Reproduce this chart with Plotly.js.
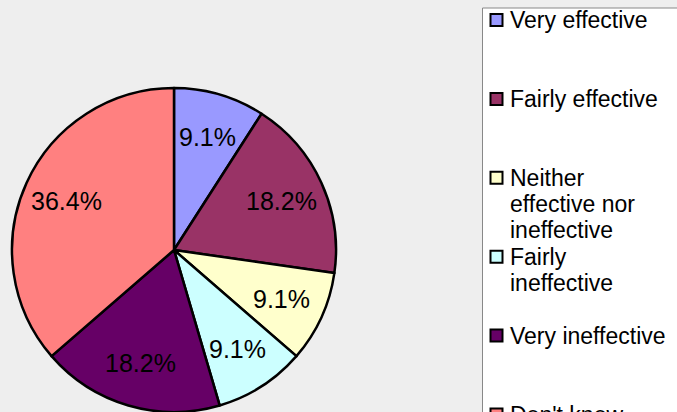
<!DOCTYPE html>
<html>
<head>
<meta charset="utf-8">
<script src="https://cdn.plot.ly/plotly-3.0.1.min.js"></script>
<style>html,body{margin:0;padding:0;background:#eeeeee;}#chart{width:677px;height:412px;}</style>
</head>
<body>
<div id="chart"></div>
<script>
const categories = ['Very effective', 'Fairly effective', 'Neither effective nor ineffective', 'Fairly ineffective', 'Very ineffective', "Don't know"];
const legendLines = [['Very effective'], ['Fairly effective'], ['Neither', 'effective nor', 'ineffective'], ['Fairly', 'ineffective'], ['Very ineffective'], ["Don't know"]];
const counts = [1, 2, 1, 1, 2, 4];
const colors = ['#9999FF', '#993366', '#FFFFCC', '#CCFFFF', '#660066', '#FF8080'];

const W = 677, H = 412;
const CX = 174, CY = 250, R = 162;
const FONT = 'Liberation Sans, Arial, Helvetica, sans-serif';
const px = x => x / W;
const py = y => 1 - y / H;

const total = counts.reduce((a, b) => a + b, 0);

const trace = {
  type: 'pie',
  values: counts,
  labels: categories,
  sort: false,
  direction: 'clockwise',
  rotation: 0,
  textinfo: 'none',
  hoverinfo: 'none',
  marker: { colors: colors, line: { color: '#000000', width: 2.5 } },
  domain: { x: [px(CX - R), px(CX + R)], y: [0, (2 * R) / H] },
  showlegend: false
};

const annotations = [];
const shapes = [];

// percentage labels placed at the mid-angle of each slice
let cum = 0;
counts.forEach((v, i) => {
  const mid = (cum + v / 2) / total * 2 * Math.PI;
  cum += v;
  const r = 0.73 * R;
  const x = CX + r * Math.sin(mid);
  const y = CY - r * Math.cos(mid);
  annotations.push({
    xref: 'paper', yref: 'paper', x: px(x), y: py(y),
    xanchor: 'center', yanchor: 'middle', showarrow: false,
    text: (v / total * 100).toFixed(1) + '%',
    font: { family: FONT, size: 25, color: '#000000' }
  });
});

// legend box
shapes.push({
  type: 'rect', xref: 'paper', yref: 'paper', layer: 'below',
  x0: px(482.5), x1: px(700), y0: py(8), y1: py(440),
  fillcolor: '#FFFFFF', line: { color: '#888888', width: 1 }
});

const LEG_TOP = 20, LEG_STEP = 78.9, LINE_H = 26.3;
categories.forEach((c, i) => {
  const yc = LEG_TOP + i * LEG_STEP;
  shapes.push({
    type: 'rect', xref: 'paper', yref: 'paper', layer: 'above',
    x0: px(490.5), x1: px(502.5), y0: py(yc - 6), y1: py(yc + 6),
    fillcolor: colors[i], line: { color: '#000000', width: 2 }
  });
  legendLines[i].forEach((t, j) => {
    annotations.push({
      xref: 'paper', yref: 'paper', x: px(508), y: py(yc + j * LINE_H),
      xanchor: 'left', yanchor: 'middle', showarrow: false,
      text: t,
      font: { family: FONT, size: 23, color: '#000000' }
    });
  });
});

const layout = {
  width: W, height: H,
  margin: { l: 0, r: 0, t: 0, b: 0 },
  paper_bgcolor: '#EEEEEE',
  plot_bgcolor: '#EEEEEE',
  showlegend: false,
  annotations: annotations,
  shapes: shapes
};

Plotly.newPlot('chart', [trace], layout, { displayModeBar: false, staticPlot: true });
</script>
</body>
</html>
